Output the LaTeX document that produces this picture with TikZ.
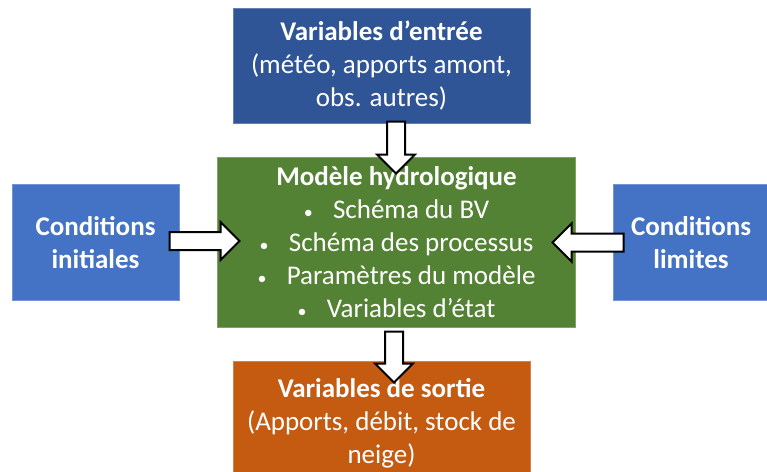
\documentclass[tikz,border=0pt]{standalone}
\usepackage{fontspec}
\setmainfont{Carlito}
\usetikzlibrary{shapes.arrows,calc}
\definecolor{inblue}{HTML}{2F5597}
\definecolor{sideblue}{HTML}{4472C4}
\definecolor{modelgreen}{HTML}{548235}
\definecolor{outorange}{HTML}{C55A11}
\tikzset{
  box/.style={rectangle, fill=#1, draw=#1!75!white, line width=0.8pt,
    text=white, align=center, inner sep=0pt,
    font=\fontsize{27}{33}\selectfont},
  blkarrow/.style={single arrow, draw=black, fill=white, line width=2pt,
    inner sep=8pt, single arrow head extend=10pt, single arrow tip angle=90,
    minimum width=36pt, minimum height=#1},
}
\newcommand\bul{{\fontsize{18}{18}\selectfont\textbullet}\hspace{0.75em}}
\begin{document}
\begin{tikzpicture}[x=1pt,y=-1pt]
\useasboundingbox (0,0) rectangle (767,471);

% output box first, then its arrow, then the model box covering the arrow's tail
\node[box=outorange, minimum width=297pt, minimum height=124pt] (outp) at (381.5,423)
  {\textbf{Variables de sortie}\\(Apports, débit, stock de\\neige)};
\node[blkarrow=51pt, shape border rotate=270] (aout) at (394,352.5) {};

\node[box=inblue, minimum width=297pt, minimum height=115pt] (inp) at (381.5,65.5)
  {\textbf{Variables d’entrée}\\(météo, apports amont,\\obs. autres)};
\node[box=modelgreen, minimum width=358pt, minimum height=170pt] (model) at (396.5,242)
  {\rule{0pt}{4pt}\textbf{Modèle hydrologique}\\ \bul Schéma du BV\\
   \bul Schéma des processus\\
   \bul Paramètres du modèle\\
   \bul Variables d’état};
\node[box=sideblue, minimum width=167pt, minimum height=116pt] (init) at (95.5,242.5)
  {\textbf{Conditions}\\\textbf{initiales}};
\node[box=sideblue, minimum width=156pt, minimum height=116pt] (lim) at (691,242.5)
  {\textbf{Conditions}\\\textbf{limites}};

% block arrows drawn over the boxes
\node[blkarrow=52pt, shape border rotate=270] (ain) at (396,143) {};
\node[blkarrow=70pt, shape border rotate=0] (ainit) at (200,241) {};
\node[blkarrow=71pt, shape border rotate=180] (alim) at (592.5,242.5) {};
\end{tikzpicture}
\end{document}
